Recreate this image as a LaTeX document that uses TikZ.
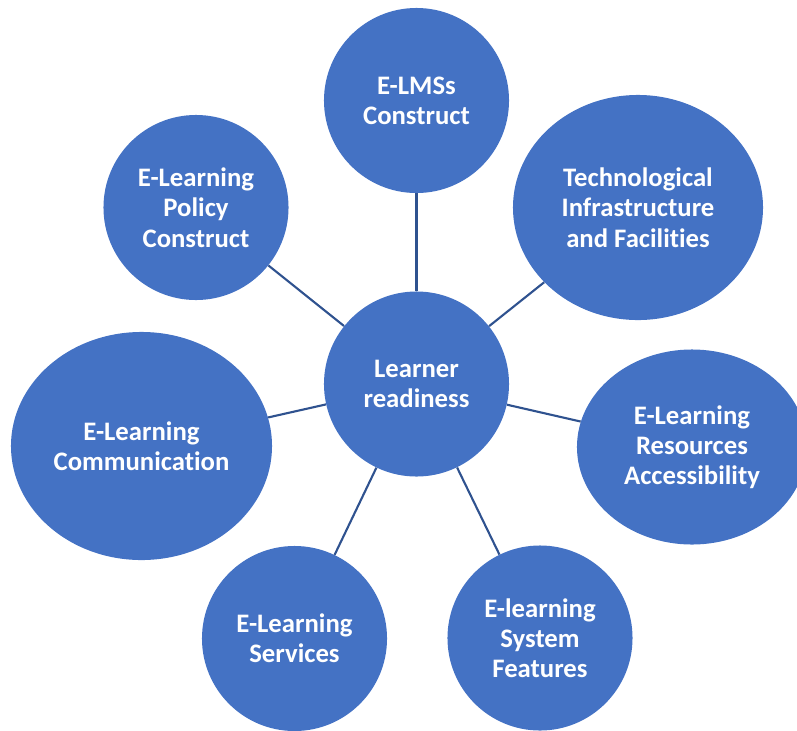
\documentclass[tikz,border=0pt]{standalone}
\usepackage{fontspec}
\setmainfont{Carlito}[Ligatures=NoCommon]
\usetikzlibrary{shapes.geometric}
\definecolor{nodeblue}{RGB}{68,114,196}
\definecolor{linkblue}{RGB}{47,82,143}

\begin{document}
\begin{tikzpicture}[x=0.025cm, y=-0.025cm,
  bubble/.style={circle, fill=nodeblue, text=white, align=center, inner sep=0pt,
    font=\bfseries\fontsize{19}{21.5}\selectfont, minimum size=4.625cm},
  oval/.style={bubble, ellipse},
  link/.style={draw=linkblue, line width=1.5pt}]
\useasboundingbox (0,0) rectangle (797,731);
\clip (0,0) rectangle (797,731);

% Centre
\node[bubble] (hub) at (416.5,384) {Learner\\readiness};

% Top
\node[bubble] (lms) at (416.5,100.5) {E-LMSs\\Construct};

% Upper right
\node[oval, minimum width=6.25cm, minimum height=5.625cm] (tech) at (638,207.5) {Technological\\Infrastructure\\and Facilities};

% Right
\node[oval, minimum width=5.75cm, minimum height=4.875cm] (access) at (692,447) {E-Learning\\Resources\\Accessibility};

% Lower right
\node[bubble] (features) at (540,638) {E-learning\\System\\Features};

% Lower left
\node[bubble] (services) at (294.5,638.5) {E-Learning\\Services};

% Left
\node[oval, minimum width=6.525cm, minimum height=5.7cm] (comm) at (141.5,446) {E-Learning\\Communication};

% Upper left
\node[bubble] (policy) at (196,207.5) {E-Learning\\Policy\\Construct};

% Links
\draw[link] (hub) -- (lms);
\draw[link] (hub) -- (tech);
\draw[link] (hub) -- (access);
\draw[link] (hub) -- (features);
\draw[link] (hub) -- (services);
\draw[link] (hub) -- (comm);
\draw[link] (hub) -- (policy);
\end{tikzpicture}
\end{document}
